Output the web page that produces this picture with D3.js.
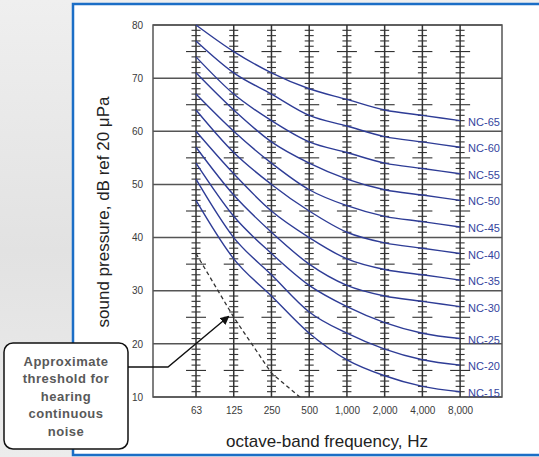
<!DOCTYPE html>
<html lang="en">
<meta charset="utf-8">
<head>
    <script src="https://d3js.org/d3.v7.min.js"></script>
</head>
<body style="margin:0">
<style>
    text { font-family: "Liberation Sans", Arial, sans-serif; }
    .tick text { fill: #3a3a3a; font-size: 10px; }
</style>

<svg width="539" height="457"></svg>
</body>

<script>
// octave bands and NC curve levels (dB) at 63 ... 8000 Hz
var bands = ["63", "125", "250", "500", "1,000", "2,000", "4,000", "8,000"];
var yTicks = [10, 20, 30, 40, 50, 60, 70, 80];
var ncNames = ["NC-15", "NC-20", "NC-25", "NC-30", "NC-35", "NC-40", "NC-45", "NC-50", "NC-55", "NC-60", "NC-65"];
var nc15 = [47, 36, 29, 22, 17, 14, 12, 11];
var nc20 = [51, 40, 33, 26, 22, 19, 17, 16];
var nc25 = [54, 44, 37, 31, 27, 24, 22, 21];
var nc30 = [57, 48, 41, 35, 31, 29, 28, 27];
var nc35 = [60, 52, 45, 40, 36, 34, 33, 32];
var nc40 = [64, 56, 50, 45, 41, 39, 38, 37];
var nc45 = [67, 60, 54, 49, 46, 44, 43, 42];
var nc50 = [71, 64, 58, 54, 51, 49, 48, 47];
var nc55 = [74, 67, 62, 58, 56, 54, 53, 52];
var nc60 = [77, 71, 67, 63, 61, 59, 58, 57];
var nc65 = [80, 75, 71, 68, 66, 64, 63, 62];
// hearing threshold (first four bands, runs off the bottom)
var threshold = [37, 25, 14.5, 8.5];
var noteLines = ["Approximate", "threshold for", "hearing", "continuous", "noise"];

var curves = [nc15, nc20, nc25, nc30, nc35, nc40, nc45, nc50, nc55, nc60, nc65];

var svg = d3.select("svg");

// background + slide panel
var grad = svg.append("defs").append("linearGradient")
    .attr("id", "bg").attr("x1", 0).attr("y1", 0).attr("x2", 0).attr("y2", 1);
grad.append("stop").attr("offset", "0%").attr("stop-color", "#efefef");
grad.append("stop").attr("offset", "55%").attr("stop-color", "#e2e2e2");
grad.append("stop").attr("offset", "100%").attr("stop-color", "#ececec");
svg.append("rect").attr("width", 539).attr("height", 457).attr("fill", "url(#bg)");
svg.append("rect").attr("x", 73).attr("y", 4).attr("width", 470).attr("height", 451).attr("fill", "#fff");
svg.append("path")
    .attr("d", "M539,4 H73 V455 H539")
    .attr("fill", "none").attr("stroke", "#1b6ec6").attr("stroke-width", 2.5);

var svgDefs = svg.select("defs");
svgDefs.append("clipPath").attr("id", "plotclip")
    .append("rect").attr("x", 153).attr("y", 25).attr("width", 349).attr("height", 372);
svgDefs.append("marker")
    .attr("id", "arrow").attr("viewBox", "0 0 10 10")
    .attr("refX", 9).attr("refY", 5)
    .attr("markerWidth", 9).attr("markerHeight", 9)
    .attr("markerUnits", "userSpaceOnUse")
    .attr("orient", "auto")
    .append("path").attr("d", "M0,0 L10,5 L0,10 Z").attr("fill", "#111");

// scales: x is octave-band index
var x = d3.scaleLinear().domain([-1.14, 8.11]).range([153, 502]);
var y = d3.scaleLinear().domain([10, 80]).range([397, 25]);

var g = svg.append("g");

// horizontal grid every 10 dB
g.selectAll(".grid")
    .data(yTicks)
    .enter().append("line")
    .attr("x1", 153).attr("x2", 502)
    .attr("y1", function(d) { return y(d); })
    .attr("y2", function(d) { return y(d); })
    .attr("stroke", "#555").attr("stroke-width", 1.5);

// frame
g.append("rect")
    .attr("x", 153).attr("y", 25).attr("width", 349).attr("height", 372)
    .attr("fill", "none").attr("stroke", "#555").attr("stroke-width", 1.5);

// vertical band lines with 1 dB scale marks
var dbs = d3.range(11, 80).filter(function(d) { return d % 10 != 0; });
bands.forEach(function(b, i) {
    var cx = x(i);
    g.append("line")
        .attr("x1", cx).attr("x2", cx).attr("y1", y(80)).attr("y2", y(10))
        .attr("stroke", "#333").attr("stroke-width", 1.5);
    g.selectAll(".mk" + i)
        .data(dbs)
        .enter().append("line")
        .attr("x1", function(d) { return cx - (d % 5 == 0 ? 10 : 4.5); })
        .attr("x2", function(d) { return cx + (d % 5 == 0 ? 10 : 4.5); })
        .attr("y1", function(d) { return y(d); })
        .attr("y2", function(d) { return y(d); })
        .attr("stroke", "#333").attr("stroke-width", 1.1);
});

// axes (labels only)
svg.append("g")
    .attr("transform", "translate(143,0)")
    .call(d3.axisLeft(y).tickValues(yTicks).tickSize(0).tickPadding(0))
    .call(function(a) { a.select(".domain").remove(); });

svg.append("g")
    .attr("transform", "translate(0,407)")
    .call(d3.axisBottom(x).tickValues(d3.range(bands.length)).tickSize(0).tickPadding(0)
        .tickFormat(function(d) { return bands[d]; }))
    .call(function(a) { a.select(".domain").remove(); });

// NC curves
var line = d3.line()
    .x(function(d, i) { return x(i); })
    .y(function(d) { return y(d); })
    .curve(d3.curveMonotoneX);

g.selectAll(".nc")
    .data(curves)
    .enter().append("path")
    .attr("d", line)
    .attr("fill", "none")
    .attr("stroke", "#2e3c96")
    .attr("stroke-width", 1.4);

g.selectAll(".nclabel")
    .data(curves)
    .enter().append("text")
    .attr("x", x(7) + 8)
    .attr("y", function(d) { return y(d[7]) + 5; })
    .attr("font-size", "11px")
    .attr("fill", "#34449e")
    .text(function(d, i) { return ncNames[i]; });

// threshold dashed line
g.append("path")
    .datum(threshold)
    .attr("clip-path", "url(#plotclip)")
    .attr("d", d3.line().x(function(d, i) { return x(i); }).y(function(d) { return y(d); }))
    .attr("fill", "none")
    .attr("stroke", "#333")
    .attr("stroke-width", 1.3)
    .attr("stroke-dasharray", "4,3");

// axis titles
svg.append("text")
    .attr("transform", "translate(109,212) rotate(-90)")
    .attr("text-anchor", "middle")
    .attr("font-size", "17px")
    .attr("fill", "#222")
    .text("sound pressure, dB ref 20 \u03bcPa");

svg.append("text")
    .attr("x", 327).attr("y", 447)
    .attr("text-anchor", "middle")
    .attr("font-size", "17px")
    .attr("fill", "#222")
    .text("octave-band frequency, Hz");

// callout
svg.append("path")
    .attr("d", "M128," + 367 + " H168 L" + (x(1) - 5) + "," + (y(25) - 1))
    .attr("fill", "none")
    .attr("stroke", "#111")
    .attr("stroke-width", 1.4)
    .attr("marker-end", "url(#arrow)");

svg.append("rect")
    .attr("x", 4).attr("y", 343).attr("width", 124).attr("height", 106)
    .attr("rx", 9)
    .attr("fill", "#fff").attr("stroke", "#111").attr("stroke-width", 1.5);

svg.selectAll(".note")
    .data(noteLines)
    .enter().append("text")
    .attr("x", 66)
    .attr("y", function(d, i) { return 366 + i * 17.4; })
    .attr("text-anchor", "middle")
    .attr("font-size", "13px")
    .attr("font-weight", "bold")
    .attr("letter-spacing", "0.5px")
    .attr("fill", "#595959")
    .text(function(d) { return d; });
</script>
